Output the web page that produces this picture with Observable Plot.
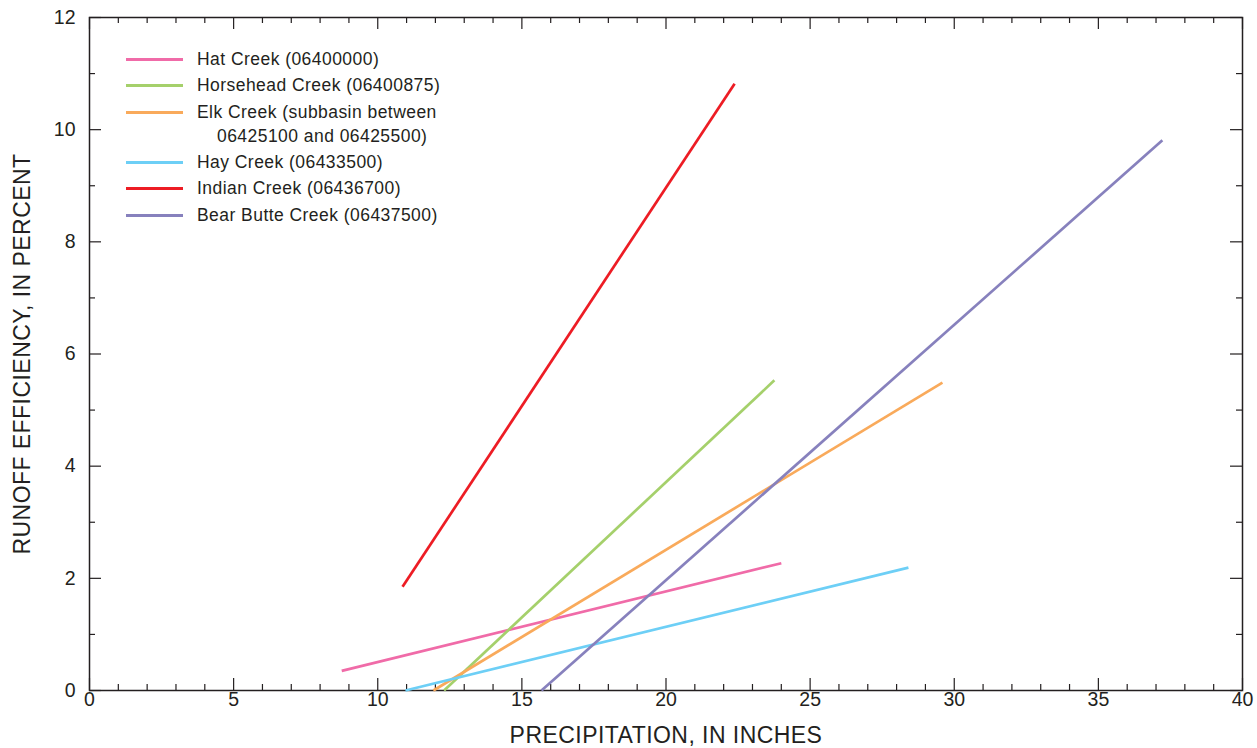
<!DOCTYPE html>
<html>
<head>
<meta charset="utf-8">
<script src="https://cdn.jsdelivr.net/npm/d3@7"></script>
<script src="https://cdn.jsdelivr.net/npm/@observablehq/plot@0.6"></script>
<style>
  html, body { margin: 0; padding: 0; background: #fff; }
  #wrap { position: relative; width: 1257px; height: 748px; font-family: "Liberation Sans", Arial, Helvetica, sans-serif; }
  #legend { position: absolute; left: 126px; top: 46px; font-size: 17.5px; letter-spacing: 0.45px; color: #231f20; }
  .row { position: relative; height: 26.3px; line-height: 26.3px; }
  .row .sw { position: absolute; left: 0; top: 12px; width: 57px; height: 3px; }
  .row .lb { position: absolute; left: 71px; white-space: nowrap; }
  .row .lb2 { position: absolute; left: 91px; top: 24.5px; white-space: nowrap; }
  .axis-title text { letter-spacing: 0.45px; }
</style>
</head>
<body>
<div id="wrap"><div id="legend"></div></div>
<script>
// Series: name, color, start/end points (precipitation in inches, runoff efficiency in percent)
const seriesNames = [
  "Hat Creek (06400000)",
  "Horsehead Creek (06400875)",
  "Elk Creek (subbasin between",
  "Hay Creek (06433500)",
  "Indian Creek (06436700)",
  "Bear Butte Creek (06437500)"
];
const seriesNames2 = ["", "", "06425100 and 06425500)", "", "", ""];
const seriesColors = ["#f06ba8", "#a5d06b", "#f9aa5b", "#6dcff6", "#ed1c24", "#8781bd"];
const precipStart = [8.75, 12.3, 11.93, 10.96, 10.86, 15.68];
const precipEnd   = [24.0, 23.76, 29.59, 28.41, 22.38, 37.22];
const effStart    = [0.35, 0.0, 0.0, 0.0, 1.85, 0.0];
const effEnd      = [2.27, 5.53, 5.49, 2.19, 10.82, 9.81];

const xMajor = d3.range(0, 41, 5);
const xMinor = d3.range(0, 41, 1).filter(d => d % 5 !== 0);
const yMajor = d3.range(0, 13, 2);
const yMinor = d3.range(1, 13, 2);

const segs = seriesNames.map((n, i) => ({
  name: n, color: seriesColors[i],
  x1: precipStart[i], y1: effStart[i], x2: precipEnd[i], y2: effEnd[i]
}));

const W = 1257, H = 748;
const mL = 89, mR = 15, mT = 17, mB = 58;
const iw = W - mL - mR, ih = H - mT - mB;
const ink = "#231f20";

const chart = Plot.plot({
  width: W, height: H,
  marginLeft: mL, marginRight: mR, marginTop: mT, marginBottom: mB,
  style: { fontFamily: '"Liberation Sans", Arial, Helvetica, sans-serif', color: ink, background: "#fff", fontSize: "19px" },
  x: { domain: [0, 40] },
  y: { domain: [0, 12] },
  marks: [
    // tick marks pointing inward on all four sides
    Plot.tickX(xMajor, { x: d => d, insetTop: ih - 12, stroke: ink, strokeWidth: 1.2 }),
    Plot.tickX(xMinor, { x: d => d, insetTop: ih - 6, stroke: ink, strokeWidth: 1.2 }),
    Plot.tickX(xMajor, { x: d => d, insetBottom: ih - 12, stroke: ink, strokeWidth: 1.2 }),
    Plot.tickX(xMinor, { x: d => d, insetBottom: ih - 6, stroke: ink, strokeWidth: 1.2 }),
    Plot.tickY(yMajor, { y: d => d, insetRight: iw - 12, stroke: ink, strokeWidth: 1.2 }),
    Plot.tickY(yMinor, { y: d => d, insetRight: iw - 6, stroke: ink, strokeWidth: 1.2 }),
    Plot.tickY(yMajor, { y: d => d, insetLeft: iw - 12, stroke: ink, strokeWidth: 1.2 }),
    Plot.tickY(yMinor, { y: d => d, insetLeft: iw - 6, stroke: ink, strokeWidth: 1.2 }),
    Plot.frame({ stroke: ink, strokeWidth: 1.5 }),
    Plot.axisX(xMajor, { tickSize: 0, tickPadding: 2, fontSize: 19.5, label: null, fill: ink, tickFormat: d3.format("d") }),
    Plot.axisY(yMajor, { tickSize: 0, tickPadding: 14, fontSize: 19.5, label: null, fill: ink, tickFormat: d3.format("d") }),
    Plot.link(segs, { x1: "x1", y1: "y1", x2: "x2", y2: "y2", stroke: "color", strokeWidth: 2.7 }),
    Plot.text(["PRECIPITATION, IN INCHES"], { frameAnchor: "bottom", dy: 45, lineAnchor: "middle", textAnchor: "middle", fontSize: 23, fill: ink, className: "axis-title" }),
    Plot.text(["RUNOFF EFFICIENCY, IN PERCENT"], { frameAnchor: "left", dx: -67, rotate: -90, lineAnchor: "middle", textAnchor: "middle", fontSize: 23, fill: ink, className: "axis-title" })
  ]
});
document.getElementById("wrap").prepend(chart);

// Legend
const leg = document.getElementById("legend");
seriesNames.forEach((n, i) => {
  const row = document.createElement("div");
  row.className = "row";
  row.innerHTML = `<div class="sw" style="background:${seriesColors[i]}"></div><div class="lb">${n}</div>` +
    (seriesNames2[i] ? `<div class="lb2">${seriesNames2[i]}</div>` : "");
  if (seriesNames2[i]) row.style.height = "50.6px";
  leg.appendChild(row);
});
</script>
</body>
</html>
